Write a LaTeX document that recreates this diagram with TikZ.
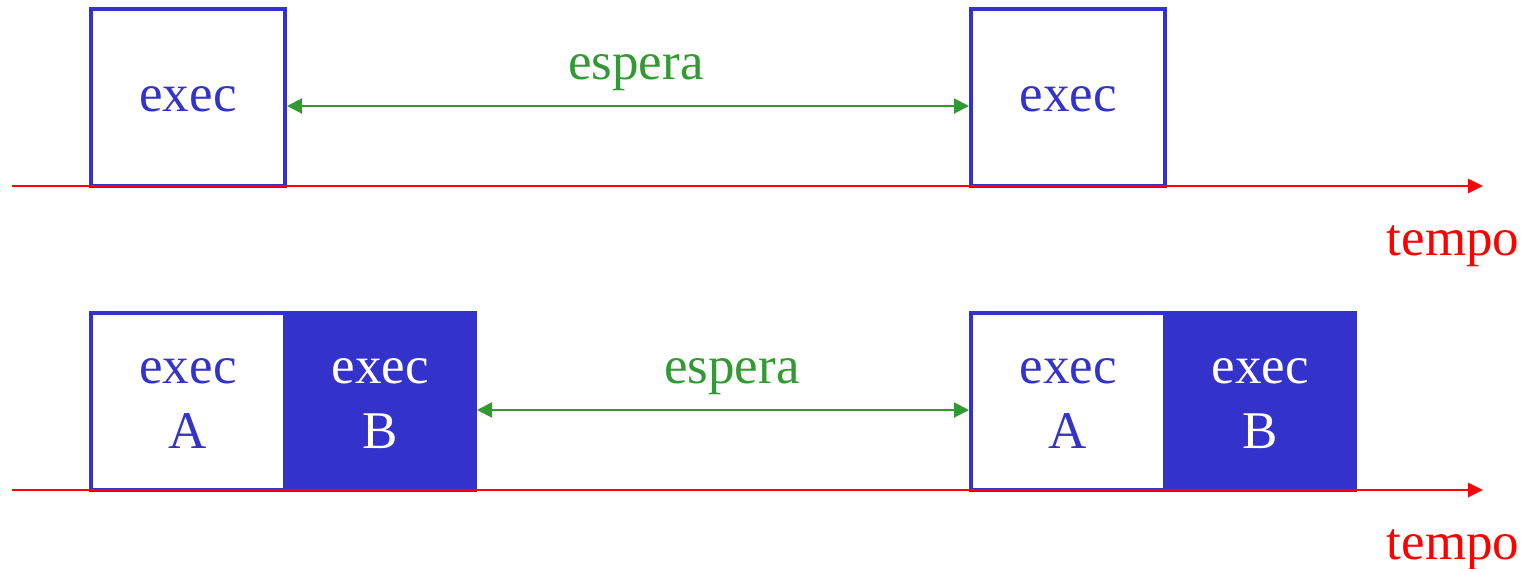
\documentclass[tikz,border=0pt]{standalone}
\usepackage{fontspec}
\setmainfont{Liberation Serif}
\usetikzlibrary{arrows.meta}
\definecolor{execblue}{RGB}{51,51,204}
\definecolor{waitgreen}{RGB}{51,153,51}
\definecolor{timered}{RGB}{255,0,0}

\begin{document}
\begin{tikzpicture}[x=1pt,y=-1pt,
  slot/.style={draw=execblue, line width=4pt, inner sep=0pt,
    minimum width=194pt, minimum height=177pt, fill=white},
  slotfilled/.style={slot, fill=execblue, minimum width=190pt},
  lbl/.style={font=\fontsize{53}{65}\selectfont, inner sep=0pt, anchor=base},
  execlbl/.style={lbl, text=execblue},
  execlblw/.style={lbl, text=white},
  waitlbl/.style={lbl, text=waitgreen},
  timelbl/.style={lbl, text=timered},
  axis/.style={draw=timered, line width=2.5pt, -{Triangle[length=15pt,width=14pt]}},
  wait/.style={draw=waitgreen, line width=2pt,
    {Triangle[length=15pt,width=15pt]}-{Triangle[length=15pt,width=15pt]}},
]
\useasboundingbox (0,0) rectangle (1534,568);

% --- sequential execution ---
\node[slot] (s1) at (188,97.5) {};
\node[slot] (s2) at (1068,97.5) {};
\coordinate (t1a) at (12,186);
\coordinate (t1b) at (1483,186);
\draw[axis] (t1a) -- (t1b);
\coordinate (w1a) at (s1.east |- 0,106);
\coordinate (w1b) at (s2.west |- 0,106);
\draw[wait] (w1a) -- (w1b);
\node[execlbl] (e1) at (188,111) {exec};
\node[execlbl] (e2) at (1068,111) {exec};
\node[waitlbl] (sp1) at (636,79) {espera};
\node[timelbl] (tm1) at (1453,255) {tempo};

% --- execution split into A and B ---
\node[slot] (a1) at (188,401.5) {};
\node[slotfilled] (b1) at (380,401.5) {};
\node[slot] (a2) at (1068,401.5) {};
\node[slotfilled] (b2) at (1260,401.5) {};
\coordinate (t2a) at (12,490);
\coordinate (t2b) at (1483,490);
\draw[axis] (t2a) -- (t2b);
\coordinate (w2a) at (b1.east |- 0,410);
\coordinate (w2b) at (a2.west |- 0,410);
\draw[wait] (w2a) -- (w2b);
\node[execlbl] (ea1) at (188,383) {exec};
\node[execlbl] (la1) at (188,448) {A};
\node[execlblw] (eb1) at (380,383) {exec};
\node[execlblw] (lb1) at (380,448) {B};
\node[execlbl] (ea2) at (1068,383) {exec};
\node[execlbl] (la2) at (1068,448) {A};
\node[execlblw] (eb2) at (1260,383) {exec};
\node[execlblw] (lb2) at (1260,448) {B};
\node[waitlbl] (sp2) at (732,383) {espera};
\node[timelbl] (tm2) at (1453,559) {tempo};
\end{tikzpicture}
\end{document}
